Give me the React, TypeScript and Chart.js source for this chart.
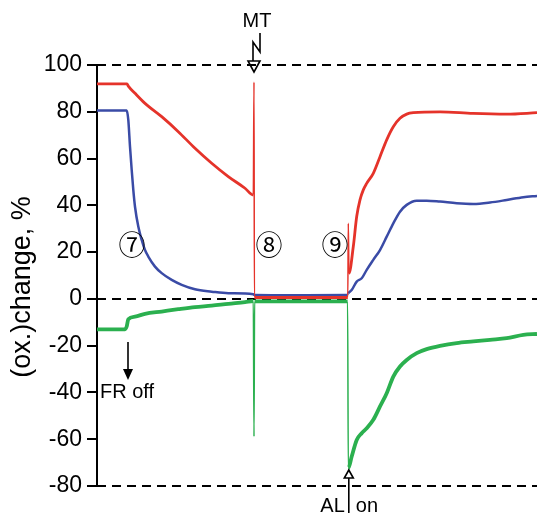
import React, { useEffect, useRef } from "react";
import { Chart, registerables } from "chart.js";

Chart.register(...registerables);

// time axis in arbitrary units (0 .. 440)
const redTime = [0, 30, 31.3, 38, 48, 64.7, 81.3, 98, 114.7, 131.3, 148, 156.3, 157, 157.4, 200, 250.8, 251.3, 252, 256.3, 259.7, 263, 266.3, 269.7, 276.3, 283, 289.7, 296.3, 303, 309.7, 316.3, 343, 376, 409.7, 440];
const redValues = [91.9, 91.9, 91, 87.9, 83.6, 77.9, 71.5, 64.4, 58, 52.3, 47.3, 44.4, 92.7, 0.6, 0.6, 0.6, 32.3, 11, 22.4, 35.2, 42.3, 46.6, 49.4, 53.7, 60.8, 68, 73.6, 77.2, 79, 79.6, 80, 79.3, 79, 79.6];

const blueTime = [0, 29.7, 31.3, 33, 34.7, 36.3, 38, 41.3, 44.7, 48, 51.3, 58, 64.7, 74.7, 84.7, 98, 114.7, 131.3, 156.3, 157.3, 200, 250.5, 251.3, 254.7, 259.7, 264.7, 269.7, 276.3, 283, 289.7, 296.3, 303, 309.7, 319.7, 329.7, 343, 359.7, 376.3, 393, 409.7, 426.3, 440];
const blueValues = [80.5, 80.5, 76.5, 65.1, 55.1, 46.6, 39.4, 30.9, 25.2, 20.9, 18.1, 13.8, 11, 8.1, 6, 4.1, 3.1, 2.4, 2, 1.7, 1.6, 1.7, 2.4, 3.8, 7.4, 8.8, 12.4, 16.7, 20.9, 26.6, 32.3, 37.3, 40.2, 42, 42, 41.6, 40.9, 40.6, 41.2, 42.3, 43.5, 44];

const greenTime = [0, 28, 29.7, 31.3, 38, 48, 64.7, 81.3, 98, 114.7, 131.3, 148, 156.3, 157, 157.6, 200, 250.6, 251.3, 254.7, 259.7, 264.7, 269.7, 276.3, 283, 289.7, 296.3, 303, 309.7, 319.7, 329.7, 343, 359.7, 376.3, 393, 409.7, 426.3, 440];
const greenValues = [-13, -13, -11.8, -8.7, -7.6, -6.4, -5.4, -4.4, -3.5, -2.9, -2.1, -1.4, -0.9, -58.8, -1.1, -1.1, -1.1, -72.4, -67.4, -60.3, -57.4, -55.3, -51.7, -46, -40.3, -33.2, -28.9, -26.1, -23.2, -21.5, -20.1, -18.9, -18.2, -17.5, -16.8, -15.4, -15];

const referenceLevels = [100, 0, -80];
const Y_MIN = -80;
const Y_MAX = 100;
const Y_STEP = 20;
const T_MAX = 440;

const FR_OFF_TIME = 31;
const MT_TIME = 157;
const AL_ON_TIME = 251.8;
const stageLabels = ["⑦", "⑧", "⑨"];
const stageTimes = [35, 172, 238];
const stageLevel = 23;

const RED = "#e5332a";
const BLUE = "#3a4ba6";
const GREEN = "#2bb04f";
const FONT = '"Liberation Sans", Arial, Helvetica, sans-serif';

export default function App() {
  const ref = useRef<HTMLCanvasElement>(null);

  useEffect(() => {
    const canvas = ref.current;
    if (!canvas) return;
    const pts = (t: number[], v: number[]) => t.map((x, i) => ({ x, y: v[i] }));
    const thin = (c: any) => (Math.abs(c.p1.parsed.x - c.p0.parsed.x) < 1 ? 1.5 : undefined);

    const annotations = {
      id: "annotations",
      afterDatasetsDraw(chart: any) {
        const c = chart.ctx as CanvasRenderingContext2D;
        const xs = chart.scales.x;
        const ys = chart.scales.y;
        c.save();
        c.fillStyle = "#000";
        c.strokeStyle = "#000";
        c.lineJoin = "miter";

        // y axis title
        c.save();
        c.translate(23, 287);
        c.rotate(-Math.PI / 2);
        c.font = `27px ${FONT}`;
        c.textAlign = "center";
        c.textBaseline = "middle";
        c.fillText("(ox.)change, %", 0, 0);
        c.restore();

        // MT marker
        const mx = xs.getPixelForValue(MT_TIME);
        const topY = ys.getPixelForValue(Y_MAX);
        c.font = `20px ${FONT}`;
        c.textAlign = "center";
        c.textBaseline = "alphabetic";
        c.fillText("MT", mx + 3, topY - 38);
        c.lineWidth = 1.6;
        c.beginPath();
        c.moveTo(mx + 6, topY - 32);
        c.lineTo(mx + 6, topY - 13);
        c.lineTo(mx - 1, topY - 23);
        c.lineTo(mx - 1, topY - 4);
        c.stroke();
        c.beginPath();
        c.moveTo(mx - 6, topY - 4);
        c.lineTo(mx + 6, topY - 4);
        c.lineTo(mx, topY + 7);
        c.closePath();
        c.stroke();

        // FR off marker
        const fx = xs.getPixelForValue(FR_OFF_TIME);
        c.beginPath();
        c.moveTo(fx, 342);
        c.lineTo(fx, 370);
        c.stroke();
        c.beginPath();
        c.moveTo(fx - 5, 369);
        c.lineTo(fx + 5, 369);
        c.lineTo(fx, 380);
        c.closePath();
        c.fill();
        c.textAlign = "left";
        c.fillText("FR off", 100, 398);

        // AL on marker
        const ax = xs.getPixelForValue(AL_ON_TIME);
        const bY = ys.getPixelForValue(Y_MIN);
        c.beginPath();
        c.moveTo(ax, bY - 16);
        c.lineTo(ax - 4.5, bY - 8);
        c.lineTo(ax + 4.5, bY - 8);
        c.closePath();
        c.stroke();
        c.beginPath();
        c.moveTo(ax, bY - 8);
        c.lineTo(ax, bY + 27);
        c.stroke();
        c.textAlign = "right";
        c.fillText("AL", ax - 4, bY + 26);
        c.textAlign = "left";
        c.fillText("on", ax + 7, bY + 26);

        // stage numbers
        c.font = `27px "Noto Sans CJK JP", "DejaVu Sans", sans-serif`;
        c.textAlign = "center";
        c.textBaseline = "middle";
        stageLabels.forEach((s, i) => {
          c.fillText(s, xs.getPixelForValue(stageTimes[i]), ys.getPixelForValue(stageLevel));
        });
        c.restore();
      },
    };

    const chart = new Chart(canvas, {
      type: "line",
      data: {
        datasets: [
          { label: "red", data: pts(redTime, redValues), borderColor: RED, borderWidth: 2.8, order: 0, cubicInterpolationMode: "monotone", segment: { borderWidth: thin } },
          { label: "blue", data: pts(blueTime, blueValues), borderColor: BLUE, borderWidth: 2.5, order: 1, cubicInterpolationMode: "monotone", segment: { borderWidth: thin } },
          { label: "green", data: pts(greenTime, greenValues), borderColor: GREEN, borderWidth: 3.8, order: 2, cubicInterpolationMode: "monotone", segment: { borderWidth: thin } },
          ...referenceLevels.map((l) => ({
            label: `ref ${l}`,
            data: [{ x: 0, y: l }, { x: T_MAX, y: l }],
            borderColor: "#000",
            borderWidth: 2,
            borderDash: [9, 6],
            order: 5,
            clip: 4,
          })),
        ] as any,
      },
      options: {
        responsive: false,
        animation: false,
        events: [],
        layout: { padding: { left: 0, top: 65, right: 4, bottom: 30 } },
        plugins: { legend: { display: false }, tooltip: { enabled: false }, title: { display: false } },
        elements: { point: { radius: 0 }, line: { tension: 0 } },
        scales: {
          x: { type: "linear", min: 0, max: T_MAX, display: false },
          y: {
            min: Y_MIN,
            max: Y_MAX,
            afterFit: (s: any) => {
              s.width = 97;
            },
            ticks: {
              stepSize: Y_STEP,
              color: "#000",
              padding: 5,
              font: { family: FONT, size: 23 },
              callback: (v: any) => String(v),
            },
            grid: { drawOnChartArea: false, drawTicks: true, tickLength: 10, color: "#000", lineWidth: 2 },
            border: { display: true, color: "#000", width: 2 },
          },
        },
      } as any,
      plugins: [annotations],
    });
    return () => chart.destroy();
  }, []);

  return (
    <div style={{ position: "absolute", left: 0, top: 0, width: 541, height: 516, background: "#fff" }}>
      <canvas ref={ref} width={541} height={516} style={{ display: "block" }} />
    </div>
  );
}
